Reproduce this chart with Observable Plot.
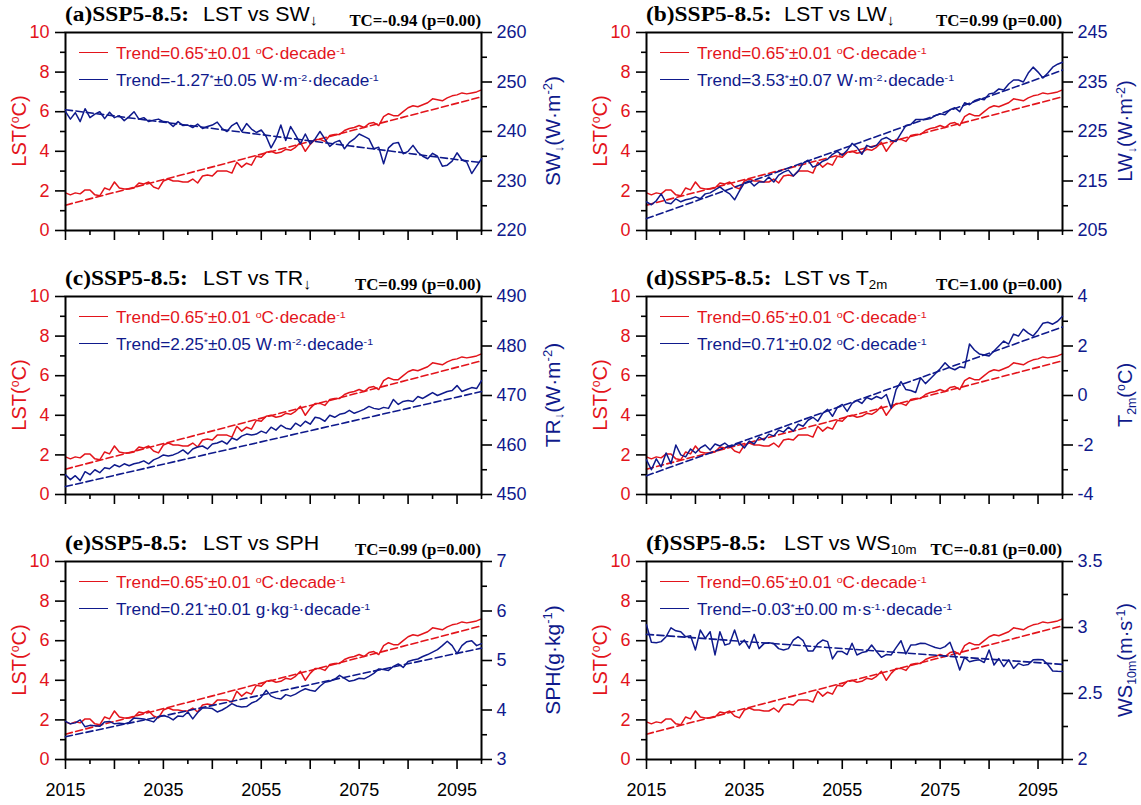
<!DOCTYPE html>
<html><head><meta charset="utf-8">
<script src="https://cdn.jsdelivr.net/npm/d3@7"></script>
<script src="https://cdn.jsdelivr.net/npm/@observablehq/plot@0.6"></script>
<style>
body{margin:0;background:#fff;}
#chart{position:relative;width:1141px;height:805px;overflow:hidden;font-family:"Liberation Sans",Arial,sans-serif;background:#fff;}
.abs{position:absolute;white-space:nowrap;line-height:1;}
.serif{font-family:"Liberation Serif","Times New Roman",serif;font-weight:bold;}
sup{font-size:0.62em;vertical-align:0.55em;line-height:0;}
sub{font-size:0.62em;vertical-align:-0.3em;line-height:0;}
sub.ar{font-size:0.75em;vertical-align:-0.25em;}
.rot{transform:translate(-50%,-50%) rotate(-90deg);}
</style>
</head><body><div id="chart"></div>
<script>
// ---------- data ----------
const years = d3.range(2015, 2101);
const trendYears = [2015, 2100];

const lst = [1.9,1.8,1.9,1.85,2.05,2.05,1.8,1.75,2.15,2.05,
2.45,2.15,2.1,2.1,2.15,2.4,2.35,2.45,2.2,2.1,
2.5,2.6,2.5,2.5,2.45,2.45,2.6,2.4,2.75,2.8,
2.75,3.0,3.0,3.0,2.9,3.45,3.2,3.4,3.3,3.75,
3.7,3.95,4.0,3.9,3.95,4.1,4.05,4.2,4.45,4.0,
4.35,4.6,4.6,4.5,4.8,4.85,4.85,5.05,5.15,5.2,
5.3,5.2,5.4,5.45,5.3,5.75,5.9,5.8,5.8,6.0,
6.2,6.3,6.25,6.35,6.45,6.65,6.6,6.55,6.7,6.8,
6.85,6.95,6.9,6.95,7.0,7.1];
const lstTrend = [1.28, 6.75];

const sw = [244.0,242.5,243.8,242.0,244.6,242.8,243.5,244.0,242.6,243.9,
242.8,243.2,242.2,243.0,244.0,242.5,242.8,242.0,242.3,242.5,
242.0,241.9,241.0,242.0,241.2,241.3,240.8,241.5,240.6,241.0,
241.3,241.9,240.6,240.0,241.2,241.8,240.0,241.6,240.5,239.8,
240.3,239.0,236.7,238.5,241.3,238.2,241.0,239.3,237.5,239.5,
237.5,238.5,240.0,238.5,237.0,237.8,238.2,236.5,237.8,238.5,
239.5,239.0,238.5,236.5,236.8,233.5,236.7,237.6,237.8,235.5,
236.0,237.2,235.8,235.0,234.5,235.6,235.0,233.0,233.2,234.0,
235.7,234.3,233.8,231.5,233.0,234.5];
const swTrend = [244.4, 233.7];

const lw = [210.8,210.2,211.0,212.4,210.6,210.4,211.4,210.8,211.2,211.4,
211.8,211.4,212.4,212.6,213.2,213.8,213.0,212.4,211.2,213.0,
214.6,215.0,214.0,214.8,214.8,215.8,214.8,216.2,216.8,217.2,
216.0,217.0,218.6,219.2,217.8,218.2,219.0,219.4,220.4,221.0,
220.2,221.2,222.6,221.8,220.4,222.2,221.8,222.2,223.4,223.8,
223.2,223.0,224.6,226.2,226.4,227.4,227.4,227.4,227.6,228.2,
228.6,228.4,229.4,229.8,229.0,230.8,230.4,231.2,231.6,231.4,
232.6,232.8,233.6,233.4,234.6,235.4,235.4,235.0,236.8,238.0,
237.0,235.8,236.8,238.0,238.6,239.0];
const lwTrend = [207.4, 237.4];

const tr = [454.0,453.0,453.8,452.8,454.6,454.0,455.0,454.4,455.4,455.2,
456.0,455.6,456.2,455.8,456.2,456.4,456.8,456.2,457.0,457.4,
458.0,457.8,458.0,458.4,459.0,458.2,459.2,459.6,459.8,459.2,
460.2,460.4,460.8,460.2,461.4,461.0,461.8,462.2,462.0,462.2,
462.8,462.4,463.6,463.0,464.0,463.4,463.2,464.4,463.8,464.8,
464.2,465.6,465.4,464.8,466.0,465.6,466.2,466.4,467.0,466.4,
466.8,467.2,467.8,467.4,467.2,467.6,467.4,469.2,468.2,468.8,
469.0,468.8,469.8,469.4,470.0,470.6,470.0,470.4,470.8,471.0,
472.0,470.8,471.2,471.6,471.4,473.0];
const trTrend = [451.6, 470.8];

const t2m = [-2.6,-3.0,-2.56,-2.88,-2.32,-2.76,-2.0,-2.4,-2.48,-2.16,
-2.32,-2.12,-2.0,-2.2,-1.96,-2.04,-1.92,-2.08,-2.0,-1.92,
-2.12,-1.84,-1.96,-1.68,-1.8,-1.56,-1.64,-1.4,-1.48,-1.28,
-1.44,-1.16,-1.24,-1.0,-0.88,-1.04,-0.72,-0.56,-0.84,-0.48,
-0.36,-0.64,-0.32,-0.2,-0.32,-0.08,-0.16,-0.04,-0.12,0.04,
-0.52,0.24,0.56,0.24,0.2,0.12,0.72,0.48,0.68,0.88,
1.08,1.32,1.12,1.04,1.16,1.12,2.08,1.84,1.68,1.64,
1.6,1.8,2.0,2.2,2.08,2.48,2.4,2.68,2.52,2.4,
2.64,2.92,2.96,2.88,3.0,3.2];
const t2mTrend = [-3.24, 2.77];

const sph = [3.77,3.72,3.74,3.8,3.66,3.69,3.68,3.67,3.76,3.77,
3.72,3.73,3.72,3.75,3.84,3.83,3.82,3.79,3.76,3.87,
3.89,3.86,3.8,3.88,3.87,3.96,3.82,3.95,4.04,4.04,
4.03,3.96,4.0,4.06,4.13,4.08,4.06,4.07,4.14,4.18,
4.26,4.4,4.28,4.24,4.22,4.31,4.28,4.32,4.38,4.43,
4.4,4.38,4.48,4.56,4.58,4.62,4.7,4.64,4.58,4.6,
4.64,4.63,4.68,4.74,4.83,4.82,4.8,4.88,4.93,4.86,
4.98,5.01,5.03,5.08,5.12,5.17,5.22,5.3,5.39,5.3,
5.14,5.3,5.38,5.4,5.3,5.34];
const sphTrend = [3.46, 5.25];

const ws = [3.02,2.888,2.885,2.893,2.93,2.998,2.975,2.968,2.93,2.938,
2.83,2.981,2.918,2.968,2.792,2.968,2.867,2.878,2.981,2.867,
2.905,2.842,2.948,2.84,2.878,2.885,2.878,2.84,2.83,2.84,
2.905,2.93,2.9,2.822,2.822,2.878,2.905,2.893,2.762,2.818,
2.818,2.795,2.881,2.792,2.81,2.818,2.867,2.818,2.774,2.795,
2.792,2.848,2.9,2.8,2.867,2.87,2.881,2.878,2.863,2.848,
2.84,2.855,2.888,2.792,2.678,2.774,2.741,2.75,2.755,2.735,
2.83,2.716,2.765,2.704,2.755,2.69,2.728,2.713,2.72,2.755,
2.758,2.755,2.72,2.671,2.668,2.666];
const wsTrend = [2.948, 2.72];

// axis ticks
const xMajor = [2015,2025,2035,2045,2055,2065,2075,2085,2095];
const xMinor = [2020,2030,2040,2050,2060,2070,2080,2090,2100];
const xLabels = [2015,2035,2055,2075,2095];
const lstDomain = [0,10], lstTicks = [0,2,4,6,8,10], lstMinor = [1,3,5,7,9];
const swDomain = [220,260], swTicks = [220,230,240,250,260], swMinor = [225,235,245,255];
const lwDomain = [205,245], lwTicks = [205,215,225,235,245], lwMinor = [210,220,230,240];
const trDomain = [450,490], trTicks = [450,460,470,480,490], trMinor = [455,465,475,485];
const t2mDomain = [-4,4], t2mTicks = [-4,-2,0,2,4], t2mMinor = [-3,-1,1,3];
const sphDomain = [3,7], sphTicks = [3,4,5,6,7], sphMinor = [3.5,4.5,5.5,6.5];
const wsDomain = [2,3.5], wsTicks = [2,2.5,3,3.5], wsMinor = [2.25,2.75,3.25];

// texts
const tags = ["(a)","(b)","(c)","(d)","(e)","(f)"];
const vsTexts = ["LST vs SW<sub class='ar'>↓</sub>","LST vs LW<sub class='ar'>↓</sub>","LST vs TR<sub class='ar'>↓</sub>","LST vs T<sub>2m</sub>","LST vs SPH","LST vs WS<sub>10m</sub>"];
const tcTexts = ["TC=-0.94 (p=0.00)","TC=0.99 (p=0.00)","TC=0.99 (p=0.00)","TC=1.00 (p=0.00)","TC=0.99 (p=0.00)","TC=-0.81 (p=0.00)"];
const lstLegend = "Trend=0.65<sup>*</sup>±0.01 <sup>o</sup>C·decade<sup>-1</sup>";
const rightLegends = ["Trend=-1.27<sup>*</sup>±0.05 W·m<sup>-2</sup>·decade<sup>-1</sup>",
"Trend=3.53<sup>*</sup>±0.07 W·m<sup>-2</sup>·decade<sup>-1</sup>",
"Trend=2.25<sup>*</sup>±0.05 W·m<sup>-2</sup>·decade<sup>-1</sup>",
"Trend=0.71<sup>*</sup>±0.02 <sup>o</sup>C·decade<sup>-1</sup>",
"Trend=0.21<sup>*</sup>±0.01 g·kg<sup>-1</sup>·decade<sup>-1</sup>",
"Trend=-0.03<sup>*</sup>±0.00 m·s<sup>-1</sup>·decade<sup>-1</sup>"];
const rightTitles = ["SW<sub>↓</sub>(W·m<sup>-2</sup>)","LW<sub>↓</sub>(W·m<sup>-2</sup>)","TR<sub>↓</sub>(W·m<sup>-2</sup>)","T<sub>2m</sub>(<sup>o</sup>C)","SPH(g·kg<sup>-1</sup>)","WS<sub>10m</sub>(m·s<sup>-1</sup>)"];
const leftTitle = "LST(<sup>o</sup>C)";

// ---------- drawing ----------
const RED = "#e3141b", NAVY = "#0f1a8c";
const rightSeries = [sw, lw, tr, t2m, sph, ws];
const rightTrends = [swTrend, lwTrend, trTrend, t2mTrend, sphTrend, wsTrend];
const rightDomains = [swDomain, lwDomain, trDomain, t2mDomain, sphDomain, wsDomain];
const rightTicks = [swTicks, lwTicks, trTicks, t2mTicks, sphTicks, wsTicks];
const rightMinor = [swMinor, lwMinor, trMinor, t2mMinor, sphMinor, wsMinor];

const FX = [65, 646], FY = [32, 296, 561], FW = 416, FH = 198;
const ML = 60, MR = 80, MT = 10, MB = 45;
const W = ML + FW + MR, H = MT + FH + MB;
const chart = document.getElementById("chart");
const fontStyle = {background: "transparent", fontFamily: "Liberation Sans, Arial, sans-serif", fontSize: "18px", overflow: "visible"};

function addEl(html, css, cls) {
  const d = document.createElement("div");
  d.className = "abs " + (cls || "");
  d.innerHTML = html;
  Object.assign(d.style, css);
  chart.appendChild(d);
  return d;
}

for (let i = 0; i < 6; i++) {
  const col = i % 2, row = Math.floor(i / 2);
  const fx = FX[col], fy = FY[row];
  const bottom = row === 2;

  const leftPlot = Plot.plot({
    width: W, height: H, marginLeft: ML, marginRight: MR, marginTop: MT, marginBottom: MB,
    x: {domain: [2015, 2100]},
    y: {domain: lstDomain},
    style: fontStyle,
    marks: [
      Plot.lineY(lst, {x: years, stroke: RED, strokeWidth: 1.5}),
      Plot.lineY(lstTrend, {x: trendYears, stroke: RED, strokeWidth: 1.6, strokeDasharray: "7,3.5"}),
      Plot.axisX(xMajor, {tickSize: 10, tickPadding: 14, strokeWidth: 1.6, stroke: "black", fill: "black", fontSize: 18, label: null,
        tickFormat: bottom ? (d => xLabels.includes(d) ? String(d) : "") : (() => "")}),
      Plot.axisX(xMinor, {tickSize: 5, strokeWidth: 1.6, stroke: "black", label: null, tickFormat: () => ""}),
      Plot.axisY(lstTicks, {tickSize: 10, tickPadding: 6, strokeWidth: 1.6, stroke: "black", fill: RED, fontSize: 18, label: null, tickFormat: d => String(d)}),
      Plot.axisY(lstMinor, {tickSize: 5, strokeWidth: 1.6, stroke: "black", label: null, tickFormat: () => ""}),
      Plot.frame({stroke: "black", strokeWidth: 2})
    ]
  });
  const rightPlot = Plot.plot({
    width: W, height: H, marginLeft: ML, marginRight: MR, marginTop: MT, marginBottom: MB,
    x: {domain: [2015, 2100], axis: null},
    y: {domain: rightDomains[i]},
    style: fontStyle,
    marks: [
      Plot.lineY(rightSeries[i], {x: years, stroke: NAVY, strokeWidth: 1.5}),
      Plot.lineY(rightTrends[i], {x: trendYears, stroke: NAVY, strokeWidth: 1.6, strokeDasharray: "7,3.5"}),
      Plot.axisY(rightTicks[i], {anchor: "right", tickSize: 10, tickPadding: 5, strokeWidth: 1.6, stroke: "black", fill: NAVY, fontSize: 18, label: null, tickFormat: d => String(d)}),
      Plot.axisY(rightMinor[i], {anchor: "right", tickSize: 5, strokeWidth: 1.6, stroke: "black", label: null, tickFormat: () => ""})
    ]
  });
  for (const p of [leftPlot, rightPlot]) {
    const holder = document.createElement("div");
    holder.className = "abs";
    Object.assign(holder.style, {left: (fx - ML) + "px", top: (fy - MT) + "px", width: W + "px", height: H + "px"});
    holder.appendChild(p);
    chart.appendChild(holder);
  }

  // title (NCL fonts are wider than the installed ones: stretch horizontally)
  addEl(`${tags[i]}SSP5-8.5:`,
    {left: fx + "px", top: (fy - 28) + "px", fontSize: "20px", color: "#000", transform: "scaleX(1.17)", transformOrigin: "0 0"}, "serif");
  addEl(vsTexts[i],
    {left: (fx + 138) + "px", top: (fy - 28) + "px", fontSize: "20px", color: "#000", transform: "scaleX(1.07)", transformOrigin: "0 0"});
  // TC
  addEl(tcTexts[i], {left: (fx + FW) + "px", top: (fy - 19) + "px", fontSize: "16px", color: "#000", transform: "translateX(-100%) scaleX(1.05)", transformOrigin: "100% 0"}, "serif");
  // legend
  const legs = [[lstLegend, RED, 21], [rightLegends[i], NAVY, 48]];
  for (const [txt, c, dy] of legs) {
    addEl("", {left: (fx + 14) + "px", top: (fy + dy - 0.8) + "px", width: "29px", height: "0", borderTop: `1.6px solid ${c}`});
    addEl(txt, {left: (fx + 51) + "px", top: (fy + dy + 6.3 - 13.5) + "px", fontSize: "16px", color: c, transform: "scaleX(1.075)", transformOrigin: "0 0"});
  }
  // axis titles
  addEl(leftTitle, {left: (fx - 46) + "px", top: (fy + FH / 2) + "px", fontSize: "20px", color: RED}, "rot");
  addEl(rightTitles[i], {left: (fx + FW + (col === 1 ? 63 : 71)) + "px", top: (fy + FH / 2) + "px", fontSize: (col === 1 ? "20px" : "21px"), color: NAVY}, "rot");
}
</script>
</body></html>
